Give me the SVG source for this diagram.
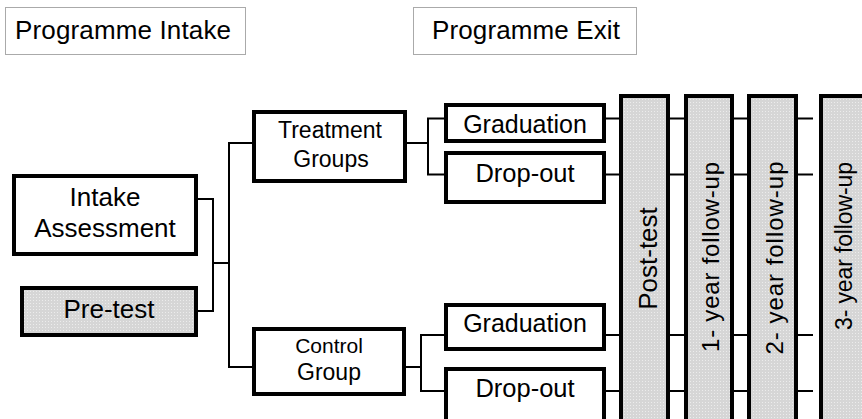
<svg xmlns="http://www.w3.org/2000/svg" width="862" height="419" viewBox="0 0 862 419">
<defs>
<pattern id="dots" width="3" height="3" patternUnits="userSpaceOnUse">
<rect width="3" height="3" fill="#d6d6d6"/>
<rect x="0" y="0" width="1" height="1" fill="#ececec"/>
</pattern>
<style>
text{font-family:"Liberation Sans",Arial,sans-serif;fill:#000}
.box{fill:#fff;stroke:#000;stroke-width:4}
.gray{fill:url(#dots);stroke:#000;stroke-width:4}
.lbl{fill:#fff;stroke:#555;stroke-width:1;stroke-dasharray:1 1}
.c{fill:none;stroke:#000;stroke-width:2}
.m{text-anchor:middle}
</style>
</defs>
<rect width="862" height="419" fill="#fff"/>

<g id="label-intake">
<rect class="lbl" x="5.5" y="7.5" width="240" height="47"/>
<text x="15" y="39" font-size="26" textLength="216" lengthAdjust="spacing">Programme Intake</text>
</g>
<g id="label-exit">
<rect class="lbl" x="413.5" y="7.5" width="223" height="47"/>
<text x="432" y="39" font-size="26" textLength="188" lengthAdjust="spacing">Programme Exit</text>
</g>

<g id="connectors">
<path class="c" d="M198 199 H213 V311 H198"/>
<path class="c" d="M213 263 H229"/>
<path class="c" d="M252 143 H229 V367 H252"/>
<path class="c" d="M407 143 H428"/>
<path class="c" d="M444 118.5 H428 V174.5 H444"/>
<path class="c" d="M406 367 H421"/>
<path class="c" d="M444 335 H421 V391 H444"/>
<path class="c" d="M606 118.5 H619 M670 118.5 H684 M734 118.5 H747 M798 118.5 H813"/>
<path class="c" d="M606 174.5 H619 M670 174.5 H684 M734 174.5 H747 M798 174.5 H813"/>
<path class="c" d="M606 335 H619 M670 335 H684 M734 335 H747 M798 335 H813"/>
<path class="c" d="M606 391 H619 M670 391 H684 M734 391 H747 M798 391 H813"/>
</g>

<g id="intake-assessment">
<rect class="box" x="14" y="176" width="182" height="78"/>
<text class="m" x="105" y="206" font-size="26">Intake</text>
<text class="m" x="105" y="237" font-size="26">Assessment</text>
</g>
<g id="pre-test">
<rect class="gray" x="22" y="288" width="174" height="47"/>
<text class="m" x="109" y="318" font-size="26">Pre-test</text>
</g>
<g id="treatment-groups">
<rect class="box" x="254" y="112" width="151" height="69"/>
<text class="m" x="330" y="138" font-size="23">Treatment</text>
<text class="m" x="331" y="167" font-size="23">Groups</text>
</g>
<g id="control-group">
<rect class="box" x="254" y="329" width="150" height="65"/>
<text class="m" x="329" y="353" font-size="21">Control</text>
<text class="m" x="329" y="380" font-size="23">Group</text>
</g>
<g id="graduation-t">
<rect class="box" x="446" y="105" width="158" height="36"/>
<text class="m" x="525" y="133" font-size="25">Graduation</text>
</g>
<g id="dropout-t">
<rect class="box" x="446" y="153" width="158" height="49"/>
<text class="m" x="525" y="182" font-size="25.5">Drop-out</text>
</g>
<g id="graduation-c">
<rect class="box" x="446" y="305" width="158" height="44"/>
<text class="m" x="525" y="332" font-size="25">Graduation</text>
</g>
<g id="dropout-c">
<rect class="box" x="446" y="369" width="158" height="60"/>
<text class="m" x="525" y="397" font-size="25.5">Drop-out</text>
</g>
<g id="post-test">
<rect class="gray" x="621" y="96" width="47" height="340"/>
<text class="m" transform="translate(656.5 258.5) rotate(-90)" font-size="26">Post-test</text>
</g>
<g id="followup-1">
<rect class="gray" x="686" y="96" width="46" height="340"/>
<text class="m" transform="translate(718.5 257) rotate(-90)" font-size="24" textLength="190" lengthAdjust="spacing">1- year follow-up</text>
</g>
<g id="followup-2">
<rect class="gray" x="749" y="96" width="47" height="340"/>
<text class="m" transform="translate(782.5 258) rotate(-90)" font-size="24" textLength="193" lengthAdjust="spacing">2- year follow-up</text>
</g>
<g id="followup-3">
<rect class="gray" x="821" y="96" width="60" height="340"/>
<text class="m" transform="translate(852 246) rotate(-90)" font-size="23" textLength="168" lengthAdjust="spacing">3- year follow-up</text>
</g>
</svg>
